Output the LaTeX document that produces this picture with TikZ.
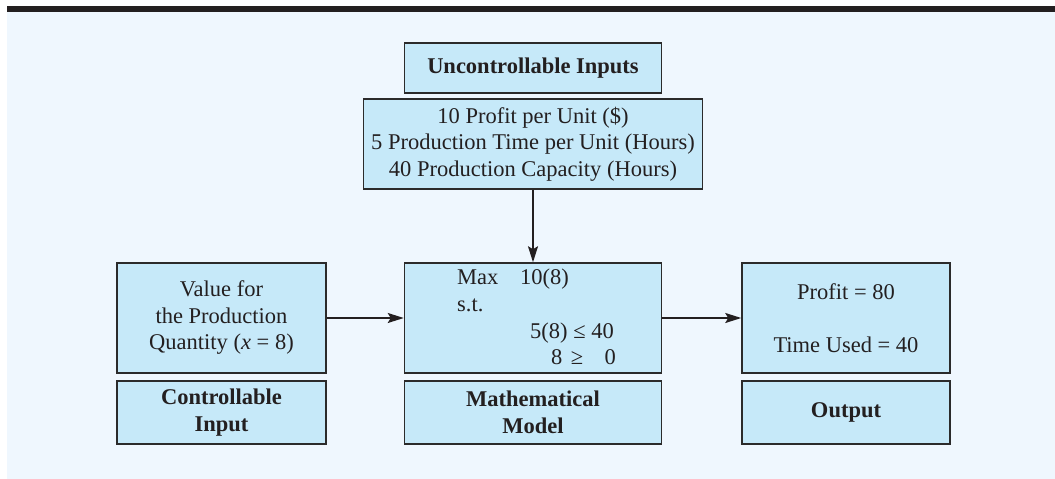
\documentclass[tikz,border=0pt]{standalone}
\usepackage{fontspec}
\setmainfont{Liberation Serif}
\usetikzlibrary{arrows.meta}
\definecolor{bgblue}{HTML}{EFF7FE}
\definecolor{boxfill}{HTML}{C6E9F9}
\definecolor{ink}{HTML}{231F20}
\definecolor{boxline}{HTML}{2B2B2B}
\tikzset{
  base/.style={font=\fontsize{22.5pt}{26.5pt}\selectfont, text=ink},
  blk/.style={base, draw=boxline, fill=boxfill, line width=1.5pt, inner sep=0pt, align=center},
  lbl/.style={base, inner sep=0pt},
  conn/.style={draw=ink, line width=1.6pt, -{Stealth[length=16pt,width=10pt,inset=3pt]}}
}
\begin{document}
\begin{tikzpicture}[x=1pt,y=-1pt]
\useasboundingbox (0,0) rectangle (1055,479);
\fill[bgblue] (7,12) rectangle (1055,479);
\fill[ink] (7,6) rectangle (1055,12);

\node[blk, minimum width=257pt, minimum height=50pt, font=\fontsize{22.5pt}{26.5pt}\selectfont\bfseries] (unc) at (533,68) {Uncontrollable Inputs};
\node[blk, minimum width=339pt, minimum height=90pt] (data) at (533,144) {10 Profit per Unit (\$)\\5 Production Time per Unit (Hours)\\40 Production Capacity (Hours)};

\node[blk, minimum width=209pt, minimum height=110pt] (cv) at (221.5,318) {Value for\\the Production\\Quantity (\textit{x} = 8)};
\node[blk, minimum width=257pt, minimum height=110pt] (model) at (533,318) {};
\node[blk, minimum width=208pt, minimum height=110pt] (out) at (846,318) {Profit = 80\\[26.5pt]Time Used = 40};

\node[blk, minimum width=209pt, minimum height=63pt, font=\fontsize{22.5pt}{26.5pt}\selectfont\bfseries] (ci) at (221.5,412.5) {Controllable\\Input};
\node[blk, minimum width=257pt, minimum height=63pt, font=\fontsize{22.5pt}{26.5pt}\selectfont\bfseries] (mm) at (533,412.5) {Mathematical\\Model};
\node[blk, minimum width=208pt, minimum height=63pt, font=\fontsize{22.5pt}{26.5pt}\selectfont\bfseries] (ol) at (846,412.5) {Output};

% model contents
\node[lbl, anchor=base west] (max) at (457,284) {Max};
\node[lbl, anchor=base west] (obj) at (520,284) {10(8)};
\node[lbl, anchor=base west] (st) at (457,311) {s.t.};
\node[lbl, anchor=base west] (c1) at (530,338) {5(8) ≤ 40};
\node[lbl, anchor=base west] (c2a) at (551,364) {8};
\node[lbl, anchor=base] (c2b) at (577,364) {≥};
\node[lbl, anchor=base east] (c2c) at (616,364) {0};

\draw[conn] (data.south) -- (model.north);
\draw[conn] (cv.east) -- (model.west);
\draw[conn] (model.east) -- (out.west);
\end{tikzpicture}
\end{document}
